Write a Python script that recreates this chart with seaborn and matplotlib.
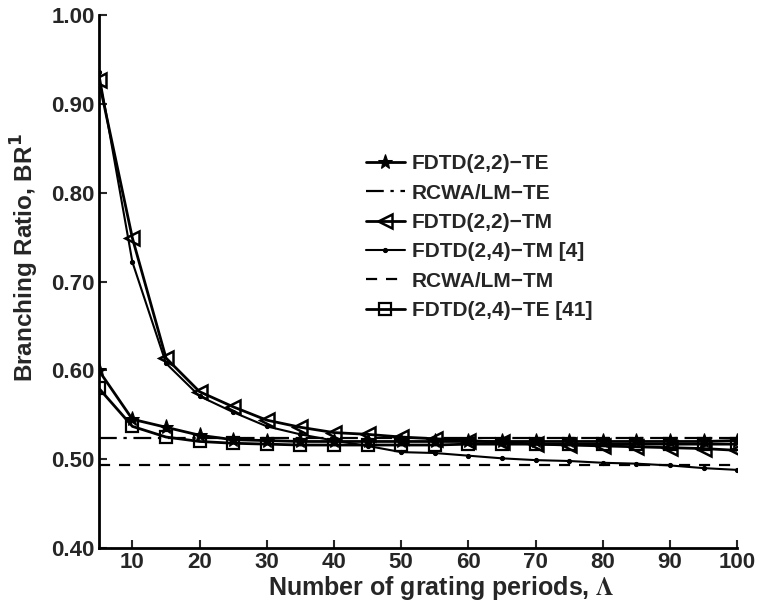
import numpy as np
import pandas as pd
import matplotlib
matplotlib.use("Agg")
import matplotlib.pyplot as plt
import seaborn as sns

periods = [5, 10, 15, 20, 25, 30, 35, 40, 45, 50, 55, 60, 65, 70, 75, 80, 85, 90, 95, 100]
fdtd22_te = [0.600, 0.545, 0.536, 0.527, 0.522, 0.521, 0.520, 0.520, 0.520, 0.520,
             0.520, 0.520, 0.520, 0.520, 0.520, 0.520, 0.520, 0.520, 0.520, 0.521]
rcwa_te = 0.524
fdtd22_tm = [0.927, 0.749, 0.614, 0.576, 0.559, 0.544, 0.536, 0.530, 0.528, 0.525,
             0.523, 0.521, 0.519, 0.517, 0.516, 0.515, 0.514, 0.513, 0.512, 0.510]
fdtd24_tm = [0.936, 0.722, 0.608, 0.571, 0.553, 0.537, 0.528, 0.521, 0.515, 0.508,
             0.507, 0.504, 0.501, 0.499, 0.498, 0.496, 0.495, 0.493, 0.490, 0.488]
rcwa_tm = 0.494
fdtd24_te = [0.580, 0.537, 0.525, 0.520, 0.518, 0.517, 0.516, 0.516, 0.516, 0.516,
             0.516, 0.517, 0.517, 0.517, 0.517, 0.517, 0.517, 0.517, 0.517, 0.517]

labels = ["FDTD(2,2)\u2212TE", "RCWA/LM\u2212TE", "FDTD(2,2)\u2212TM",
          "FDTD(2,4)\u2212TM [4]", "RCWA/LM\u2212TM", "FDTD(2,4)\u2212TE [41]"]
xticks = [10, 20, 30, 40, 50, 60, 70, 80, 90, 100]
yticks = [0.40, 0.50, 0.60, 0.70, 0.80, 0.90, 1.00]

sns.set_style("ticks")
plt.rcParams['font.family'] = ['Liberation Sans', 'DejaVu Sans']
plt.rcParams['font.weight'] = 'bold'
plt.rcParams['xtick.direction'] = 'in'
plt.rcParams['ytick.direction'] = 'in'

fig = plt.figure(figsize=(7.6, 6.1), dpi=100)
ax = fig.add_axes([0.130, 0.1016, 0.840, 0.8734])

series = [
    (labels[0], fdtd22_te, dict(marker='*', markersize=11, lw=2.0, ls='-')),
    (labels[1], [rcwa_te] * len(periods), dict(marker=None, lw=1.6, ls=(0, (8, 3, 1.5, 3)))),
    (labels[2], fdtd22_tm, dict(marker='<', markersize=10, lw=2.0, ls='-', fillstyle='none', mew=1.8)),
    (labels[3], fdtd24_tm, dict(marker='.', markersize=6, lw=1.5, ls='-')),
    (labels[4], [rcwa_tm] * len(periods), dict(marker=None, lw=1.6, ls=(0, (5, 4)))),
    (labels[5], fdtd24_te, dict(marker='s', markersize=8, lw=2.0, ls='-', fillstyle='none', mew=1.6)),
]

for name, vals, st in series:
    df = pd.DataFrame({"x": periods, "y": vals})
    sns.lineplot(data=df, x="x", y="y", ax=ax, color='black', label=name,
                 markeredgecolor='black', **st)

ax.set_xlim(5, 100)
ax.set_ylim(0.40, 1.00)
ax.set_xticks(xticks)
ax.set_yticks(yticks)
ax.set_yticklabels([f"{v:.2f}" for v in yticks])
ax.tick_params(labelsize=16, width=1.5, length=6, pad=3)
for lab in ax.get_xticklabels() + ax.get_yticklabels():
    lab.set_fontweight('bold')
for s in ['top', 'right']:
    ax.spines[s].set_visible(False)
for s in ['left', 'bottom']:
    ax.spines[s].set_linewidth(2)
    ax.spines[s].set_color('black')

xl = ax.set_xlabel("Number of grating periods, $\\mathrm{\\Lambda}$", fontsize=18,
                   fontweight='bold', labelpad=0)
xl.set_math_fontfamily('stix')
ax.set_ylabel("Branching Ratio, BR$^\\mathbf{1}$", fontsize=17.5, fontweight='bold')
ax.xaxis.set_label_coords(0.536, -0.048)
ax.yaxis.set_label_coords(-0.09, 0.545)

leg = ax.legend(loc='upper left', bbox_to_anchor=(0.405, 0.755), frameon=False,
                fontsize=15, handlelength=1.9, handletextpad=0.3, labelspacing=0.5,
                borderaxespad=0)
for t in leg.get_texts():
    t.set_fontweight('bold')

fig.savefig("out.png", dpi=100)
